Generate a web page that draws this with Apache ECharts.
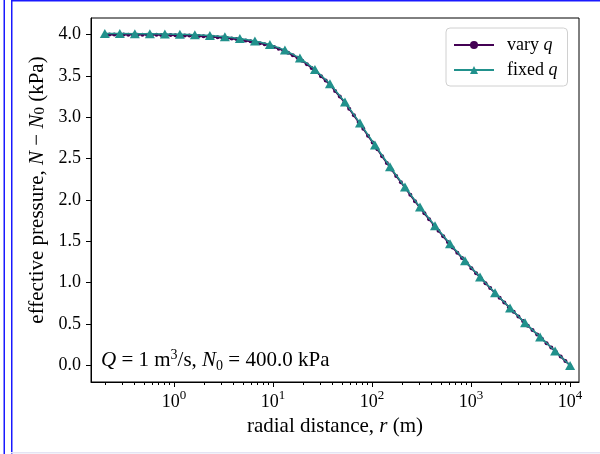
<!DOCTYPE html>
<html><head><meta charset="utf-8">
<script src="https://cdn.jsdelivr.net/npm/echarts@6/dist/echarts.min.js"></script>
<style>html,body{margin:0;padding:0;background:#fff}#c{width:600px;height:454px}</style>
</head><body><div id="c"></div>
<script>
const rFixed = [0.2,0.2835,0.402,0.570,0.808,1.145,1.623,2.301,3.262,4.625,6.557,9.296,13.18,18.68,26.49,37.55,53.23,75.47,107.0,151.7,215.0,304.8,432.2,612.7,868.6,1231,1746,2475,3509,4975,7053,10000];
const nFixed = [4.012,4.012,4.011,4.010,4.007,4.003,3.997,3.987,3.972,3.952,3.922,3.880,3.812,3.715,3.578,3.405,3.185,2.930,2.665,2.402,2.158,1.914,1.688,1.470,1.265,1.070,0.880,0.695,0.515,0.345,0.175,0.000];
const rVary = [0.2,0.2231,0.2489,0.2776,0.3097,0.3454,0.3853,0.4298,0.4795,0.5348,
  0.5966,0.6655,0.7423,0.8281,0.9237,1.0304,1.1494,1.2821,1.4302,1.5954,
  1.7796,1.9852,2.2144,2.4702,2.7554,3.0736,3.4285,3.8245,4.2662,4.7588,
  5.3084,5.9214,6.6052,7.3680,8.2189,9.1680,10.227,11.408,12.725,14.195,
  15.834,17.663,19.702,21.978,24.516,27.347,30.505,34.028,37.957,42.340,
  47.230,52.684,58.768,65.555,73.125,81.570,90.990,101.51,113.24,126.31,
  140.90,157.17,175.32,195.57,218.15,243.35,271.45,302.80,337.76,376.77,
  420.28,468.81,522.95,583.34,650.70,725.85,809.66,903.16,1007.6,1123.8,
  1253.6,1398.4,1559.9,1740.0,1941.0,2165.1,2415.1,2694.0,3005.1,3352.1,
  3739.2,4170.9,4652.6,5189.8,5789.1,6457.6,7203.4,8035.2,8963.1,10000];
const nVary = [4.000,4.000,4.000,4.000,4.000,3.999,3.999,3.999,3.998,3.998,
  3.998,3.997,3.996,3.995,3.994,3.992,3.991,3.989,3.987,3.985,
  3.982,3.979,3.976,3.972,3.967,3.963,3.957,3.951,3.945,3.938,
  3.928,3.919,3.909,3.896,3.883,3.870,3.849,3.828,3.807,3.780,
  3.750,3.720,3.683,3.640,3.597,3.551,3.497,3.443,3.388,3.319,
  3.250,3.181,3.103,3.023,2.943,2.861,2.778,2.695,2.613,2.530,
  2.448,2.368,2.291,2.215,2.139,2.062,1.986,1.910,1.839,1.768,
  1.698,1.629,1.561,1.493,1.427,1.363,1.299,1.237,1.176,1.115,
  1.055,0.995,0.936,0.877,0.819,0.762,0.704,0.648,0.592,0.536,
  0.481,0.428,0.375,0.322,0.269,0.216,0.163,0.108,0.054,0.000];
const yTickValues = [0,0.5,1,1.5,2,2.5,3,3.5,4];
const xTickValues = [1,10,100,1000,10000];
const xMinorTickValues = [0.2,0.3,0.4,0.5,0.6,0.7,0.8,0.9,2,3,4,5,6,7,8,9,20,30,40,50,60,70,80,90,200,300,400,500,600,700,800,900,2000,3000,4000,5000,6000,7000,8000,9000];
const yRange = {min:-0.2, max:4.2};
const xRange = {min:0.145, max:12300};

const FONT = 'Liberation Serif';
const chart = echarts.init(document.getElementById('c'));
const xBase = {type:'log', logBase:10, min:xRange.min, max:xRange.max, position:'bottom', offset:0, splitLine:{show:false}};
chart.setOption({
  animation:false,
  textStyle:{fontFamily:FONT, color:'#000'},
  grid:{left:91, right:21, top:18, bottom:72, show:true, borderColor:'#000', borderWidth:1, backgroundColor:'transparent'},
  legend:{
    orient:'vertical', left:446, top:28, padding:[8,10,7,7], itemGap:7,
    backgroundColor:'#fff', borderColor:'#d0d0d0', borderWidth:1, borderRadius:4,
    itemWidth:40, itemHeight:10,
    textStyle:{fontFamily:FONT, fontSize:18, color:'#000', padding:[0,0,0,8],
      rich:{n:{fontFamily:FONT,fontSize:18}, i:{fontFamily:FONT,fontSize:18,fontStyle:'italic'}}},
    formatter:function(name){ const p=name.split(' '); return '{n|'+p[0]+' }{i|'+p[1]+'}'; },
    data:['vary q','fixed q']
  },
  xAxis:[Object.assign({}, xBase, {
    name:'radial distance, {i|r} (m)', nameLocation:'middle', nameGap:29,
    nameTextStyle:{fontFamily:FONT, fontSize:21, color:'#000', rich:{i:{fontFamily:FONT,fontSize:21,fontStyle:'italic'}}},
    axisLine:{show:true, onZero:false, lineStyle:{color:'#000', width:1}},
    axisTick:{show:true, inside:false, length:5, customValues:xTickValues, lineStyle:{color:'#000'}},
    axisLabel:{margin:7, color:'#000', customValues:xTickValues,
      formatter:function(v){ const e=Math.round(Math.log10(v)); return '{b|10}{s|'+e+'}'; },
      rich:{b:{fontFamily:FONT,fontSize:18,lineHeight:22,verticalAlign:'bottom'}, s:{fontFamily:FONT,fontSize:13,lineHeight:22,verticalAlign:'top',padding:[0,0,9,0]}}}
  }), Object.assign({}, xBase, {
    axisLine:{show:false, onZero:false},
    axisTick:{show:true, inside:false, length:3, customValues:xMinorTickValues, lineStyle:{color:'#000'}},
    axisLabel:{show:false}
  })],
  yAxis:{
    type:'value', min:yRange.min, max:yRange.max,
    name:'effective pressure, {i|N} − {i|N}{s|0} (kPa)', nameLocation:'middle', nameGap:40,
    nameTextStyle:{fontFamily:FONT, fontSize:21, color:'#000', padding:[0,0,0,20],
      rich:{i:{fontFamily:FONT,fontSize:21,fontStyle:'italic'}, s:{fontFamily:FONT,fontSize:15,verticalAlign:'bottom'}}},
    axisLine:{show:true, onZero:false, lineStyle:{color:'#000', width:1}},
    axisTick:{show:true, inside:false, length:5, customValues:yTickValues, lineStyle:{color:'#000'}},
    splitLine:{show:false},
    axisLabel:{margin:10, fontSize:18, color:'#000', fontFamily:FONT, customValues:yTickValues,
      formatter:function(v){ return v.toFixed(1); }}
  },
  graphic:[
    {type:'rect', shape:{x:3.5,y:0,width:1.5,height:454}, style:{fill:'#1a1aff'}, silent:true},
    {type:'rect', shape:{x:11,y:0,width:1.5,height:454}, style:{fill:'#1a1aff'}, silent:true},
    {type:'rect', shape:{x:11,y:0,width:589,height:1.5}, style:{fill:'#1a1aff'}, silent:true},
    {type:'rect', shape:{x:11,y:452,width:589,height:1.5}, style:{fill:'#e4e4f4'}, silent:true},
    {type:'text', left:101, top:348, style:{
      text:'{i|Q}{n| = 1 m}{s|3}{n|/s, }{i|N}{b|0}{n| = 400.0 kPa}',
      fontFamily:FONT, fill:'#000',
      rich:{n:{fontFamily:FONT,fontSize:21,lineHeight:25}, i:{fontFamily:FONT,fontSize:21,fontStyle:'italic',lineHeight:25},
        s:{fontFamily:FONT,fontSize:14,verticalAlign:'top',lineHeight:14}, b:{fontFamily:FONT,fontSize:14,verticalAlign:'bottom',lineHeight:14}}}}
  ],
  series:[
    {name:'vary q', type:'line', data:rVary.map((r,i)=>[r,nVary[i]]), symbol:'circle', symbolSize:4, showSymbol:true,
      color:'#440154', lineStyle:{width:1.8, color:'#440154'}, itemStyle:{color:'#440154'}, z:2},
    {name:'fixed q', type:'line', data:rFixed.map((r,i)=>[r,nFixed[i]]), symbol:'triangle', symbolSize:[10,9], showSymbol:true,
      color:'#21918c', lineStyle:{width:1.5, color:'#21918c'}, itemStyle:{color:'#21918c'}, z:3}
  ]
});
</script></body></html>
